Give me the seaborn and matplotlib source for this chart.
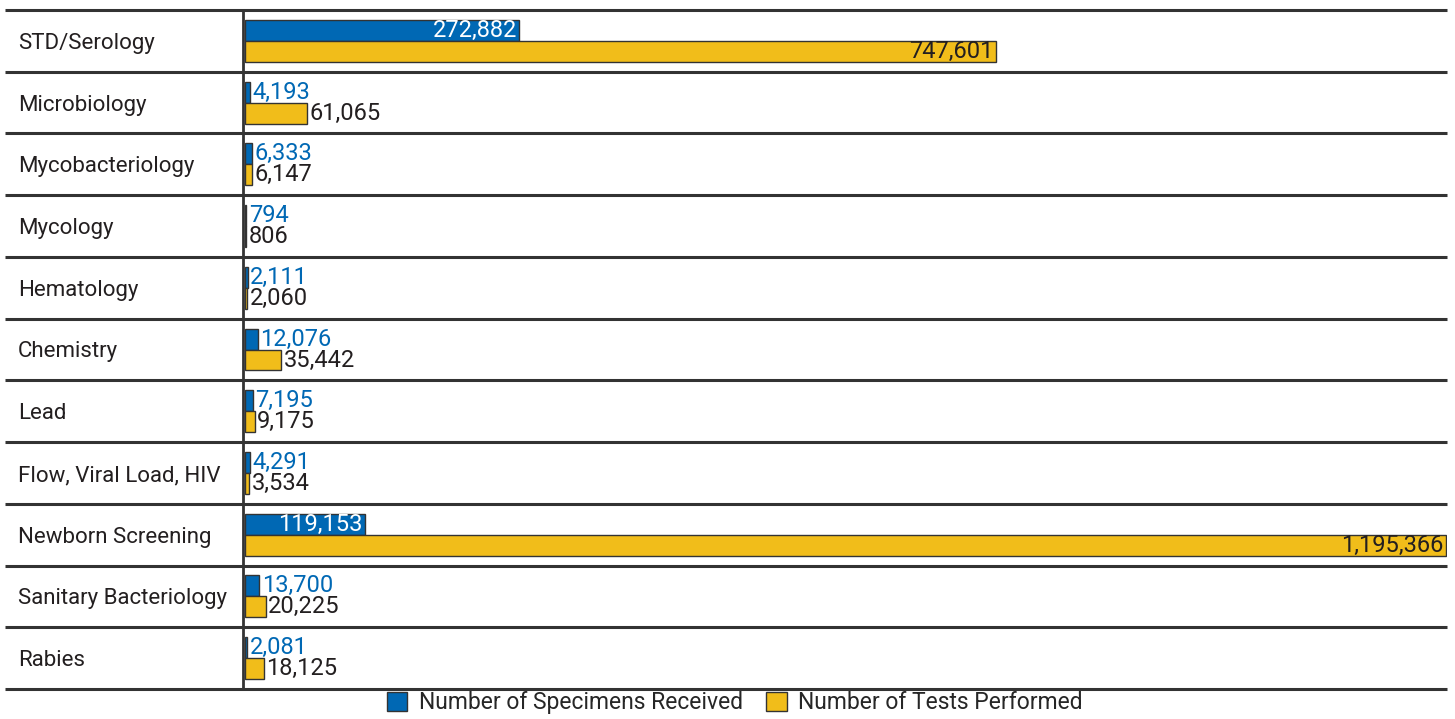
import numpy as np
import pandas as pd
import matplotlib
matplotlib.use("Agg")
import matplotlib.pyplot as plt
import matplotlib.transforms as mtransforms
import seaborn as sns

sns.set_style("white")
plt.rcParams["font.family"] = ["Roboto", "DejaVu Sans"]

# ---------------------------------------------------------------
# DATA
# ---------------------------------------------------------------
categories = ["STD/Serology", "Microbiology", "Mycobacteriology", "Mycology",
              "Hematology", "Chemistry", "Lead", "Flow, Viral Load, HIV",
              "Newborn Screening", "Sanitary Bacteriology", "Rabies"]
specimens = [272882, 4193, 6333, 794, 2111, 12076, 7195, 4291, 119153, 13700, 2081]
tests = [747601, 61065, 6147, 806, 2060, 35442, 9175, 3534, 1195366, 20225, 18125]
series_names = ["Number of Specimens Received", "Number of Tests Performed"]

BLUE = "#0068b4"
YELLOW = "#f1bd1a"
DARK = "#231f20"
LINE = "#333333"

df = pd.DataFrame({
    "Category": categories * 2,
    "Value": specimens + tests,
    "Series": [series_names[0]] * len(categories) + [series_names[1]] * len(categories),
})

# ---------------------------------------------------------------
# PLOT
# ---------------------------------------------------------------
fig = plt.figure(figsize=(14.55, 7.19), dpi=100)
ax = fig.add_axes([243 / 1455, 1 - 689 / 719, 1204 / 1455, 679 / 719])

sns.barplot(data=df, y="Category", x="Value", hue="Series", orient="h",
            palette=[BLUE, YELLOW], saturation=1, width=0.68,
            edgecolor=LINE, linewidth=1, ax=ax, legend=False)

ax.set_xlim(-2400, 1196800)
ax.set_ylim(len(categories) - 0.5, -0.5)
ax.set_xlabel("")
ax.set_ylabel("")
ax.set_xticks([])
for s in ["top", "right", "bottom"]:
    ax.spines[s].set_visible(False)
ax.spines["left"].set_color(LINE)
ax.spines["left"].set_linewidth(2)

# category labels, left aligned near the figure edge
ax.tick_params(axis="y", length=0, pad=162)
for lab in ax.get_yticklabels():
    lab.set_horizontalalignment("left")
    lab.set_fontsize(16)
    lab.set_color(DARK)

# row separators, running into the label column
trans = mtransforms.blended_transform_factory(ax.transAxes, ax.transData)
x_left = -(243 - 5) / 1204
for i in range(len(categories) + 1):
    ax.plot([x_left, 1.0], [i - 0.5, i - 0.5], color=LINE, lw=2.2,
            transform=trans, clip_on=False, solid_capstyle="butt")

# value labels
inside_limit = 100000
for container, color_out in zip(ax.containers, [BLUE, DARK]):
    for bar in container:
        val = bar.get_width()
        y = bar.get_y() + bar.get_height() / 2
        txt = f"{int(round(val)):,}"
        if val > inside_limit:
            c = "white" if color_out == BLUE else DARK
            ax.text(val - 2500, y, txt, ha="right", va="center",
                    fontsize=17, color=c)
        else:
            ax.text(val + 2500, y, txt, ha="left", va="center",
                    fontsize=17, color=color_out)

# legend
handles = [plt.Rectangle((0, 0), 1, 1, facecolor=BLUE, edgecolor=LINE, lw=1),
           plt.Rectangle((0, 0), 1, 1, facecolor=YELLOW, edgecolor=LINE, lw=1)]
fig.legend(handles, series_names, loc="lower center", ncol=2, frameon=False,
           bbox_to_anchor=(0.505, -0.022), fontsize=16.5, handlelength=0.9,
           handleheight=0.9, handletextpad=0.5, columnspacing=1.0)

fig.savefig("out.png", dpi=100)
